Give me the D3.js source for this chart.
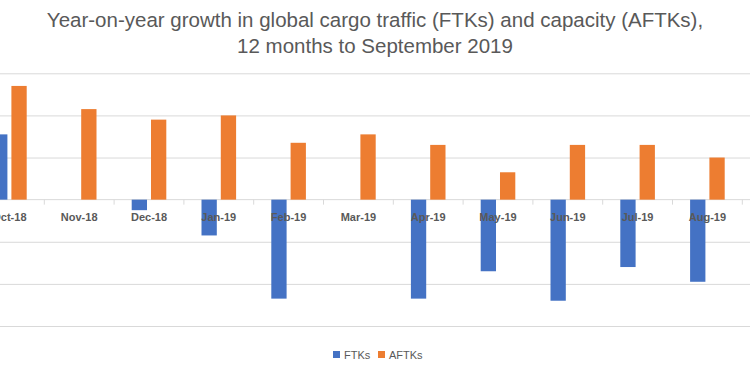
<!DOCTYPE html>
<html>
<head>
<meta charset="utf-8">
<script src="https://cdn.jsdelivr.net/npm/d3@7"></script>
<style>
  body { margin: 0; background: #fff; }
  svg { display: block; font-family: 'Liberation Sans', Arial, sans-serif; }
  .title { font-size: 20.5px; fill: #595959; }
  .tick-label { font-size: 11px; font-weight: bold; fill: #595959; }
  .legend-label { font-size: 11px; fill: #595959; }
</style>
</head>
<body>
<svg width="750" height="375"></svg>
<script>
// months visible in the picture (Oct-18 is half cut off on the left)
const months = ['Oct-18', 'Nov-18', 'Dec-18', 'Jan-19', 'Feb-19', 'Mar-19',
                'Apr-19', 'May-19', 'Jun-19', 'Jul-19', 'Aug-19'];
// year-on-year growth, %
const ftks  = [3.1, 0.0, -0.5, -1.7, -4.7, 0.0, -4.7, -3.4, -4.8, -3.2, -3.9];
const aftks = [5.4, 4.3, 3.8, 4.0, 2.7, 3.1, 2.6, 1.3, 2.6, 2.6, 2.0];
const seriesNames = ['FTKs', 'AFTKs'];
const colors = ['#4472C4', '#ED7D31'];
const yTicks = [-6, -4, -2, 0, 2, 4, 6];

const svg = d3.select('svg');
const width = +svg.attr('width');
const height = +svg.attr('height');

const render = () => {
    const data = months.map((m, i) => ({ month: m, FTKs: ftks[i], AFTKs: aftks[i] }));

    const step = 69.8;
    const xScale = d3.scaleBand()
        .domain(months)
        .range([-25.5, -25.5 + step * months.length]);

    const groupWidth = 34.6;
    const xInner = d3.scaleBand()
        .domain(seriesNames)
        .range([0, groupWidth])
        .paddingInner(0.207);

    const yScale = d3.scaleLinear()
        .domain([-6, 6])
        .range([326, 73.3]);

    // gridlines
    const yAxis = d3.axisLeft(yScale)
        .tickValues(yTicks.filter(t => t !== 0))
        .tickSize(-width)
        .tickFormat('');
    const yAxisG = svg.append('g').call(yAxis);
    yAxisG.select('.domain').remove();
    yAxisG.selectAll('line').attr('stroke', '#d9d9d9');

    // category axis at zero
    const zeroY = yScale(0);
    svg.append('line')
        .attr('x1', 0).attr('x2', width)
        .attr('y1', zeroY).attr('y2', zeroY)
        .attr('stroke', '#d9d9d9');

    const boundaries = months.map(m => xScale(m) + xScale.bandwidth());
    svg.selectAll('.cat-tick').data(boundaries).enter().append('line')
        .attr('class', 'cat-tick')
        .attr('x1', d => d).attr('x2', d => d)
        .attr('y1', zeroY).attr('y2', zeroY + 5)
        .attr('stroke', '#d9d9d9');

    const groups = svg.selectAll('.month').data(data).enter().append('g')
        .attr('class', 'month')
        .attr('transform', d =>
            `translate(${xScale(d.month) + (xScale.bandwidth() - groupWidth) / 2}, 0)`);

    groups.selectAll('rect')
        .data(d => seriesNames.map((s, i) => ({ key: s, value: d[s], color: colors[i] })))
        .enter().append('rect')
        .attr('x', d => xInner(d.key))
        .attr('width', xInner.bandwidth())
        .attr('y', d => yScale(Math.max(0, d.value)))
        .attr('height', d => Math.abs(yScale(d.value) - yScale(0)))
        .attr('fill', d => d.color);

    // labels sit on top of the bars, like Excel does
    svg.selectAll('.tick-label').data(months).enter().append('text')
        .attr('class', 'tick-label')
        .attr('text-anchor', 'middle')
        .attr('x', d => xScale(d) + xScale.bandwidth() / 2)
        .attr('y', zeroY + 21)
        .text(d => d);

    // title
    const title = svg.append('text')
        .attr('class', 'title')
        .attr('text-anchor', 'middle');
    title.append('tspan').attr('x', width / 2).attr('y', 27)
        .text('Year-on-year growth in global cargo traffic (FTKs) and capacity (AFTKs),');
    title.append('tspan').attr('x', width / 2).attr('y', 53)
        .text('12 months to September 2019');

    // legend
    const legend = svg.append('g').attr('transform', 'translate(333, 355)');
    const legendX = [0, 45];
    seriesNames.forEach((s, i) => {
        legend.append('rect')
            .attr('x', legendX[i]).attr('y', -4)
            .attr('width', 7).attr('height', 7)
            .attr('fill', colors[i]);
        legend.append('text')
            .attr('class', 'legend-label')
            .attr('x', legendX[i] + 11).attr('y', 4)
            .text(s);
    });
};

render();
</script>
</body>
</html>
